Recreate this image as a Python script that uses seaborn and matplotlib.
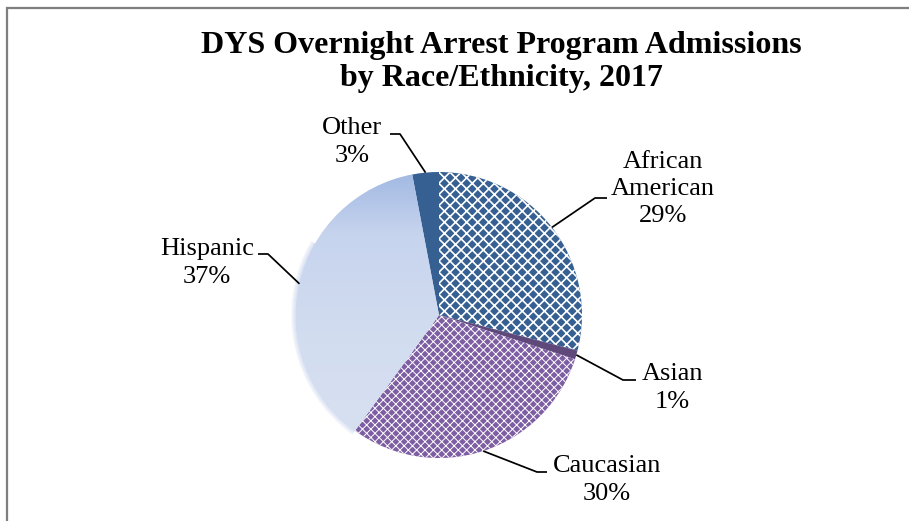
import numpy as np
import matplotlib
matplotlib.use("Agg")
import matplotlib.pyplot as plt
import seaborn as sns
from matplotlib.colors import LinearSegmentedColormap
from matplotlib.patches import Rectangle, Wedge

# data
groups = ["African American", "Asian", "Caucasian", "Hispanic", "Other"]
label_names = ["African\nAmerican", "Asian", "Caucasian", "Hispanic", "Other"]
shares = [29, 1, 30, 37, 3]
title = "DYS Overnight Arrest Program Admissions\nby Race/Ethnicity, 2017"

sns.set_theme(style="white")
plt.rcParams["font.family"] = ["Liberation Serif", "DejaVu Serif"]
plt.rcParams["hatch.linewidth"] = 1.3

W, H = 909, 521
fig = plt.figure(figsize=(W / 100, H / 100), dpi=100)
ax = fig.add_axes([0, 0, 1, 1])

palette = sns.color_palette(["#376092", "#5F497A", "#7D5EA3", "#D3DDF0", "#376092"])
cx, cy, r = 439, H - 315, 143

wedges, _ = ax.pie(shares, colors=palette, startangle=90, counterclock=False,
                   center=(cx, cy), radius=r,
                   wedgeprops=dict(linewidth=0, edgecolor="white"))

# patterned fills
wedges[0].set_hatch("xxx")
wedges[2].set_hatch("xxxx")
if hasattr(wedges[2], "set_hatch_linewidth"):
    wedges[0].set_hatch_linewidth(1.2)
    wedges[2].set_hatch_linewidth(0.7)

# soft glow on the lower-left rim
for k in range(5):
    ax.add_patch(Wedge((cx, cy), r + 1 + k, 150, 234, width=1.2,
                       color="#8FAADC", alpha=0.3 - 0.055 * k, lw=0))

# gradient fill for Hispanic
hisp = wedges[3]
cmap = LinearSegmentedColormap.from_list(
    "hisp", [(0, "#A2B9E3"), (0.22, "#C7D4EE"), (0.6, "#D3DDF0"), (1, "#D8E1F1")])
grad = np.linspace(0, 1, 256).reshape(-1, 1)
im = ax.imshow(grad, cmap=cmap, extent=(cx - r, cx + 5, cy - r, cy + r),
               origin="upper", aspect="auto", zorder=hisp.get_zorder() + 0.1)
im.set_clip_path(hisp)

# labels with leader lines
label_pos = [(663, 189), (672, 388), (607, 480), (207, 263), (352, 142)]
elbows = [((595, 198), (607, 198)), ((623, 380), (636, 380)),
          ((537, 472), (547, 472)), ((268, 254), (258, 254)),
          ((400, 134), (390, 134))]

for w, name, val, (tx, ty), (e1, e2) in zip(wedges, label_names, shares, label_pos, elbows):
    mid = np.deg2rad((w.theta1 + w.theta2) / 2)
    sx, sy = cx + r * np.cos(mid), cy + r * np.sin(mid)
    ax.plot([sx, e1[0], e2[0]], [sy, H - e1[1], H - e2[1]], color="black", lw=1.25,
            solid_capstyle="butt", zorder=5)
    ax.text(tx, H - ty, f"{name}\n{val}%", ha="center", va="center", fontsize=19,
            linespacing=1.3, color="black")

ax.text(501, H - 62, title, ha="center", va="center", fontsize=23, fontweight="bold",
        linespacing=1.2, color="black")

ax.set_xlim(0, W)
ax.set_ylim(0, H)
ax.set_aspect("equal")
ax.axis("off")

fig.add_artist(Rectangle((7 / W, -0.05), 1.2, (H - 8) / H + 0.05, transform=fig.transFigure,
                         fill=False, edgecolor="#7F7F7F", lw=1.6))

fig.savefig("out.png", dpi=100, facecolor="white")
